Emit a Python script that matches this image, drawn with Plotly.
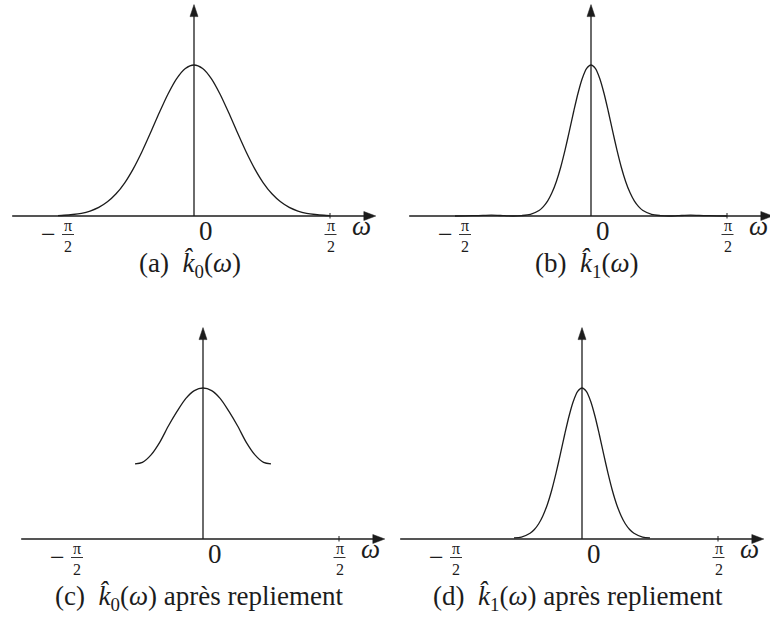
import math
import plotly.graph_objects as go

HALF_PI = math.pi / 2

# ---- spectra (frequency in rad, amplitude normalised to the peak) ----
OMEGA_A = [-1.571, -1.5, -1.4, -1.3, -1.2, -1.1, -1.0, -0.9, -0.8, -0.7, -0.6, -0.5,
           -0.4, -0.3, -0.2, -0.1, 0.0, 0.1, 0.2, 0.3, 0.4, 0.5, 0.6, 0.7, 0.8, 0.9,
           1.0, 1.1, 1.2, 1.3, 1.4, 1.5, 1.571]
K0 = [0.003, 0.005, 0.010, 0.018, 0.033, 0.057, 0.094, 0.147, 0.220, 0.314, 0.427, 0.554,
      0.685, 0.808, 0.910, 0.977, 1.000, 0.977, 0.910, 0.808, 0.685, 0.554, 0.427, 0.314,
      0.220, 0.147, 0.094, 0.057, 0.033, 0.018, 0.010, 0.005, 0.003]

OMEGA_B = [-1.571, -1.45, -1.3, -1.15, -1.0, -0.9, -0.8, -0.7, -0.6, -0.55, -0.5, -0.45,
           -0.4, -0.35, -0.3, -0.25, -0.2, -0.15, -0.1, -0.05, 0.0, 0.05, 0.1, 0.15, 0.2,
           0.25, 0.3, 0.35, 0.4, 0.45, 0.5, 0.55, 0.6, 0.7, 0.8, 0.9, 1.0, 1.15, 1.3,
           1.45, 1.571]
K1 = [0.000, 0.001, 0.003, 0.006, 0.002, 0.000, 0.003, 0.011, 0.036, 0.062, 0.100, 0.155,
      0.229, 0.323, 0.436, 0.562, 0.692, 0.813, 0.912, 0.977, 1.000, 0.977, 0.912, 0.813,
      0.692, 0.562, 0.436, 0.323, 0.229, 0.155, 0.100, 0.062, 0.036, 0.011, 0.003, 0.000,
      0.002, 0.006, 0.003, 0.001, 0.000]

OMEGA_C = [-0.785, -0.7, -0.6, -0.5, -0.4, -0.3, -0.2, -0.1, 0.0, 0.1, 0.2, 0.3, 0.4,
           0.5, 0.6, 0.7, 0.785]
K0_FOLDED = [0.497, 0.507, 0.557, 0.640, 0.748, 0.845, 0.930, 0.983, 1.000, 0.983, 0.930,
             0.845, 0.748, 0.640, 0.557, 0.507, 0.497]

OMEGA_D = [-0.785, -0.7, -0.6, -0.55, -0.5, -0.45, -0.4, -0.35, -0.3, -0.25, -0.2, -0.15,
           -0.1, -0.05, 0.0, 0.05, 0.1, 0.15, 0.2, 0.25, 0.3, 0.35, 0.4, 0.45, 0.5, 0.55,
           0.6, 0.7, 0.785]
K1_FOLDED = [0.007, 0.013, 0.038, 0.063, 0.101, 0.156, 0.229, 0.323, 0.436, 0.562, 0.692,
             0.813, 0.912, 0.977, 1.000, 0.977, 0.912, 0.813, 0.692, 0.562, 0.436, 0.323,
             0.229, 0.156, 0.101, 0.063, 0.038, 0.013, 0.007]

CAPTIONS = [
    "(a)  <i>k\u0302</i><sub>0</sub>(<i>ω</i>)",
    "(b)  <i>k\u0302</i><sub>1</sub>(<i>ω</i>)",
    "(c)  <i>k\u0302</i><sub>0</sub>(<i>ω</i>) après repliement",
    "(d)  <i>k\u0302</i><sub>1</sub>(<i>ω</i>) après repliement",
]
CAPTION_DROP = [49, 49, 59, 59]   # px below the horizontal axis
CURVES = [(OMEGA_A, K0), (OMEGA_B, K1), (OMEGA_C, K0_FOLDED), (OMEGA_D, K1_FOLDED)]

# tick labels: value, sign, numerator / denominator of the fraction
TICK_VALUES = [-HALF_PI, HALF_PI]
TICK_SIGNS = ["−", ""]
TICK_FRACTIONS = ["π<br>2", "π<br>2"]

# ---- page geometry (pixels) ----
W, H = 770, 625
PX_PER_RAD = 136 / HALF_PI
PX_PER_UNIT = 151
X_LIMIT = 2.1   # end of the horizontal arrow, rad
Y_LIMIT = 1.40  # end of the vertical arrow
INK = "#1c1c1c"
FONT = "Liberation Serif, DejaVu Serif, Times New Roman, serif"

PANEL_BOXES = [
    dict(ox=194, oy=216, x0=0, x1=385, y0=0, y1=312),
    dict(ox=591, oy=216, x0=385, x1=770, y0=0, y1=312),
    dict(ox=203, oy=539, x0=0, x1=385, y0=312, y1=625),
    dict(ox=582, oy=539, x0=385, x1=770, y0=312, y1=625),
]

fig = go.Figure()
shapes, annotations = [], []
layout_axes = {}

for i, (box, (om, amp), cap, drop) in enumerate(zip(PANEL_BOXES, CURVES, CAPTIONS, CAPTION_DROP)):
    sfx = "" if i == 0 else str(i + 1)
    xr, yr = "x" + sfx, "y" + sfx
    layout_axes["xaxis" + sfx] = dict(
        domain=[box["x0"] / W, box["x1"] / W],
        range=[(box["x0"] - box["ox"]) / PX_PER_RAD, (box["x1"] - box["ox"]) / PX_PER_RAD],
        visible=False, fixedrange=True, anchor=yr,
    )
    layout_axes["yaxis" + sfx] = dict(
        domain=[1 - box["y1"] / H, 1 - box["y0"] / H],
        range=[(box["oy"] - box["y1"]) / PX_PER_UNIT, (box["oy"] - box["y0"]) / PX_PER_UNIT],
        visible=False, fixedrange=True, anchor=xr,
    )

    fig.add_trace(go.Scatter(
        x=om, y=amp, mode="lines", xaxis=xr, yaxis=yr, hoverinfo="skip",
        line=dict(color=INK, width=1.3, shape="spline", smoothing=0.8),
        showlegend=False, cliponaxis=False,
    ))

    line = dict(color=INK, width=1.3)
    # axes
    shapes.append(dict(type="line", xref=xr, yref=yr, x0=-X_LIMIT, x1=X_LIMIT - 0.08,
                       y0=0, y1=0, line=line))
    shapes.append(dict(type="line", xref=xr, yref=yr, x0=0, x1=0, y0=0,
                       y1=Y_LIMIT - 0.05, line=line))
    # arrow heads
    shapes.append(dict(type="path", xref=xr, yref=yr, xsizemode="pixel", ysizemode="pixel",
                       xanchor=X_LIMIT, yanchor=0, path="M 0 0 L -12 4.5 L -12 -4.5 Z",
                       fillcolor=INK, line=dict(color=INK, width=0.5)))
    shapes.append(dict(type="path", xref=xr, yref=yr, xsizemode="pixel", ysizemode="pixel",
                       xanchor=0, yanchor=Y_LIMIT, path="M 0 0 L -4 -12 L 4 -12 Z",
                       fillcolor=INK, line=dict(color=INK, width=0.5)))
    # tick at pi/2
    shapes.append(dict(type="line", xref=xr, yref=yr, ysizemode="pixel", yanchor=0,
                       x0=HALF_PI, x1=HALF_PI, y0=-2.5, y1=3, line=dict(color=INK, width=1)))

    def txt(x, text, size, dx, dy):
        annotations.append(dict(
            xref=xr, yref=yr, x=x, y=0, text=text, showarrow=False,
            xshift=dx, yshift=dy, xanchor="center", yanchor="middle",
            font=dict(family=FONT, size=size, color=INK),
        ))

    # fraction tick labels with their bars
    for val, sign, frac in zip(TICK_VALUES, TICK_SIGNS, TICK_FRACTIONS):
        dx = 10 if sign else 0.5
        shapes.append(dict(type="line", xref=xr, yref=yr, xsizemode="pixel",
                           ysizemode="pixel", xanchor=val, yanchor=0,
                           x0=dx - 6, x1=dx + 6, y0=-18.5, y1=-18.5,
                           line=dict(color=INK, width=0.9)))
        txt(val, frac, 16, dx, -20)
        if sign:
            txt(val, sign, 26, -10, -18)

    txt(0, "0", 27, 12, -15)
    txt(HALF_PI, "<i>ω</i>", 27, 31, -10)
    txt(0, cap, 27, -4, -drop)

fig.update_layout(
    width=W, height=H, margin=dict(l=0, r=0, t=0, b=0),
    paper_bgcolor="white", plot_bgcolor="white",
    shapes=shapes, annotations=annotations, **layout_axes,
)

fig.write_html("out.html")
